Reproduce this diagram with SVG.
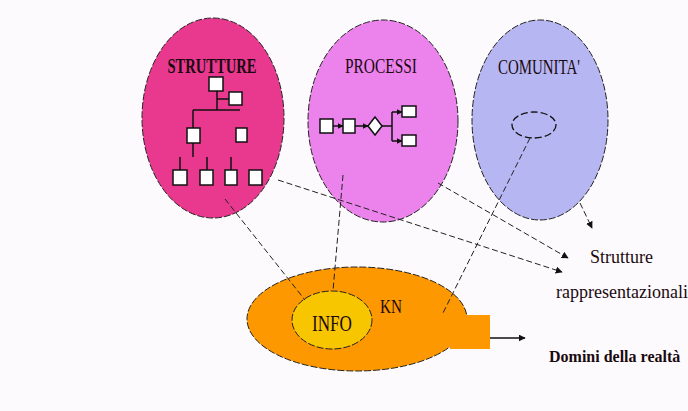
<svg xmlns="http://www.w3.org/2000/svg" width="688" height="411" viewBox="0 0 688 411">
<style>
.ell{stroke:#222;stroke-width:1;stroke-dasharray:7 2}
.box{fill:#fff;stroke:#111;stroke-width:1.5}
.ln{stroke:#111;stroke-width:1.5;fill:none}
.dash{stroke:#222;stroke-width:1;stroke-dasharray:6 3;fill:none}
.lbl{font-family:"Liberation Serif","Times New Roman",serif;fill:#1a0a10}
</style>
<defs>
<marker id="ah" viewBox="0 0 10 10" refX="9" refY="5" markerWidth="7" markerHeight="7" orient="auto" markerUnits="userSpaceOnUse">
<path d="M0,0 L10,5 L0,10 z" fill="#111"/>
</marker>
<marker id="sa" viewBox="0 0 10 10" refX="9" refY="5" markerWidth="6" markerHeight="6" orient="auto" markerUnits="userSpaceOnUse">
<path d="M0,0 L10,5 L0,10 z" fill="#111"/>
</marker>
</defs>
<rect width="688" height="411" fill="#fdfafd"/>

<g id="strutture">
<ellipse class="ell" cx="213" cy="118" rx="71" ry="100" fill="#e8398e"/>
<text class="lbl" x="212" y="73" font-size="20" font-weight="bold" text-anchor="middle" textLength="89" lengthAdjust="spacingAndGlyphs">STRUTTURE</text>
<path class="ln" d="M217,91 V110 M217,99 H229 M193,110 H240 M193,110 V128 M193,143 V157 M180,157 V170 M207,157 V170 M231,157 V170"/>
<rect class="box" x="209" y="77" width="14" height="14"/>
<rect class="box" x="229" y="92" width="13" height="13"/>
<rect class="box" x="187" y="128" width="13" height="15"/>
<rect class="box" x="236" y="128" width="11" height="14"/>
<rect class="box" x="173" y="170" width="14" height="15"/>
<rect class="box" x="200" y="170" width="13" height="15"/>
<rect class="box" x="225" y="170" width="12" height="15"/>
<rect class="box" x="249" y="170" width="13" height="15"/>
</g>

<g id="processi">
<ellipse class="ell" cx="383" cy="121" rx="75" ry="101" fill="#ec82ec"/>
<text class="lbl" x="381" y="73" font-size="20" text-anchor="middle" textLength="72" lengthAdjust="spacingAndGlyphs">PROCESSI</text>
<rect class="box" x="320" y="119" width="13" height="14"/>
<line class="ln" x1="333" y1="126" x2="343" y2="126" marker-end="url(#sa)"/>
<rect class="box" x="343" y="119" width="12" height="14"/>
<line class="ln" x1="355" y1="126" x2="368" y2="126" marker-end="url(#sa)"/>
<path class="box" d="M375,117 L382,126 L375,135 L368,126 z"/>
<path class="ln" d="M382,126 H392 M392,112 V141"/>
<line class="ln" x1="392" y1="112" x2="402" y2="112" marker-end="url(#sa)"/>
<line class="ln" x1="392" y1="141" x2="402" y2="141" marker-end="url(#sa)"/>
<rect class="box" x="402" y="106" width="14" height="11"/>
<rect class="box" x="402" y="135" width="14" height="11"/>
</g>

<g id="comunita">
<ellipse class="ell" cx="540" cy="120" rx="68" ry="100" fill="#b6b6f3"/>
<text class="lbl" x="539" y="74" font-size="20" text-anchor="middle" textLength="82" lengthAdjust="spacingAndGlyphs">COMUNITA'</text>
<ellipse cx="534" cy="125" rx="22" ry="13" fill="none" stroke="#111" stroke-width="1.3" stroke-dasharray="7 3"/>
</g>

<g id="kn">
<ellipse class="ell" cx="357" cy="319" rx="110" ry="52" fill="#fd9800"/>
<rect x="450" y="315" width="40" height="34" fill="#fd9800"/>
<text class="lbl" x="380" y="313" font-size="19" textLength="22" lengthAdjust="spacingAndGlyphs">KN</text>
</g>

<g id="info">
<ellipse class="ell" cx="332" cy="320" rx="40" ry="29" fill="#f8c600"/>
<text class="lbl" x="332" y="331" font-size="24" text-anchor="middle" textLength="40" lengthAdjust="spacingAndGlyphs">INFO</text>
</g>

<g id="labels">
<text class="lbl" x="590" y="263" font-size="18">Strutture</text>
<text class="lbl" x="556" y="298" font-size="18">rappresentazionali</text>
<text class="lbl" x="549" y="362" font-size="16" font-weight="bold">Domini della realtà</text>
</g>

<g id="connectors">
<line class="dash" x1="278" y1="180" x2="562" y2="272" marker-end="url(#ah)"/>
<line class="dash" x1="438" y1="183" x2="568" y2="258" marker-end="url(#ah)"/>
<line class="dash" x1="580" y1="203" x2="592" y2="228" marker-end="url(#ah)"/>
<line class="dash" x1="225" y1="199" x2="305" y2="300"/>
<line class="dash" x1="343" y1="175" x2="333" y2="291"/>
<line class="dash" x1="530" y1="138" x2="443" y2="313"/>
<line x1="490" y1="338" x2="525" y2="338" stroke="#111" stroke-width="1.5" marker-end="url(#ah)"/>
</g>
</svg>
